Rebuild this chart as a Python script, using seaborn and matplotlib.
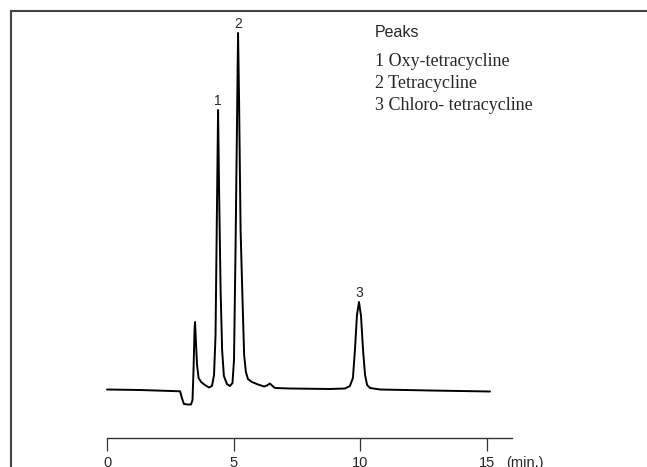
import numpy as np
import pandas as pd
import matplotlib
matplotlib.use("Agg")
import matplotlib.pyplot as plt
import seaborn as sns

# ---- data ----
time_min = [0.00, 1.30, 2.29, 2.89, 2.96, 3.04, 3.20, 3.32, 3.38, 3.42, 3.46, 3.48,
            3.52, 3.56, 3.62, 3.72, 3.87, 4.03, 4.15, 4.23, 4.29, 4.35, 4.39, 4.43,
            4.49, 4.55, 4.62, 4.74, 4.86, 4.96, 5.02, 5.08, 5.14, 5.18, 5.22, 5.28,
            5.34, 5.42, 5.49, 5.57, 5.73, 5.97, 6.21, 6.32, 6.44, 6.52, 6.64, 7.23,
            8.81, 9.41, 9.60, 9.72, 9.80, 9.88, 9.96, 10.04, 10.12, 10.20, 10.28,
            10.40, 10.79, 12.77, 15.14]
signal = [0.5, 0.0, -0.8, -1.3, -8, -14, -14.5, -14.5, -10, 20, 60, 68,
          45, 25, 12, 8, 5, 2.5, 4, 15, 55, 190, 280, 200,
          100, 40, 14, 6, 4, 7, 30, 140, 270, 357, 290, 160,
          105, 35, 18, 11, 8, 5.5, 3.5, 4.5, 6.5, 4.5, 2, 1.5,
          1, 1.5, 4, 12, 40, 75, 88, 74, 40, 15, 5,
          2, 0.5, -0.5, -1.5]

peak_labels = ["1", "2", "3"]
peak_rt = [4.39, 5.18, 9.96]
legend_title = "Peaks"
legend_items = ["1 Oxy-tetracycline", "2 Tetracycline", "3 Chloro- tetracycline"]
time_ticks = [0, 5, 10, 15]
time_unit = "(min.)"

df = pd.DataFrame({"time": time_min, "signal": signal})

# ---- figure ----
sns.set_style("white")
plt.rcParams["font.family"] = ["Liberation Sans", "DejaVu Sans"]

W, H = 647, 467
fig = plt.figure(figsize=(W / 100, H / 100), dpi=100)

PX_PER_MIN = 25.3
X0 = 107.0          # pixel of t = 0
BASE_Y = 390.0      # pixel of zero signal
FRAME = 10.8        # frame line position (px)

def fx(px):
    return px / W

def fy(py):
    return 1 - py / H

# main (signal) axes, spans from the frame to the figure edges
ax = fig.add_axes([fx(FRAME), 0, 1 - fx(FRAME), fy(FRAME)])
ax.set_xlim((FRAME - X0) / PX_PER_MIN, (W - X0) / PX_PER_MIN)
ax.set_ylim(BASE_Y - H, BASE_Y - FRAME)
sns.lineplot(data=df, x="time", y="signal", ax=ax, color="black",
             linewidth=1.4, estimator=None, sort=False)
line = ax.lines[0]
line.set_solid_joinstyle("round")
ax.set_xlabel("")
ax.set_ylabel("")
ax.set_xticks([])
ax.set_yticks([])
for s in ["right", "bottom"]:
    ax.spines[s].set_visible(False)
for s in ["left", "top"]:
    ax.spines[s].set_color("#444444")
    ax.spines[s].set_linewidth(1.5)

# peak labels
for lab, rt in zip(peak_labels, peak_rt):
    h = np.interp(rt, time_min, signal)
    ax.annotate(lab, xy=(rt, h), xytext=(0, 3.5), textcoords="offset points",
                ha="center", va="baseline", fontsize=10)

# time axis
AX_END = 512.0
AX_Y = 437.5
axt = fig.add_axes([fx(X0), fy(AX_Y), (AX_END - X0) / W, 0.0001])
axt.set_xlim(0, (AX_END - X0) / PX_PER_MIN)
axt.set_yticks([])
axt.set_xticks(time_ticks)
axt.set_xticklabels([str(t) for t in time_ticks])
axt.patch.set_visible(False)
for s in ["left", "right", "top"]:
    axt.spines[s].set_visible(False)
axt.spines["bottom"].set_linewidth(1.0)
axt.spines["bottom"].set_color("#333333")
axt.tick_params(axis="x", direction="out", length=9, width=0.9, color="#333333",
                pad=4.5, labelsize=10.5, bottom=True)
fig.text(fx(506), fy(AX_Y + 9 / 0.72 + 4.5 / 0.72), time_unit, ha="left", va="top",
         fontsize=10.5)

# legend text
fig.text(fx(375), fy(36.7), legend_title, ha="left", va="baseline", fontsize=11.5)
for i, item in enumerate(legend_items):
    fig.text(fx(375), fy(66.5 + 22 * i), item, ha="left", va="baseline",
             fontsize=13, family=["Liberation Serif", "DejaVu Serif"])

fig.savefig("out.png", dpi=100)
